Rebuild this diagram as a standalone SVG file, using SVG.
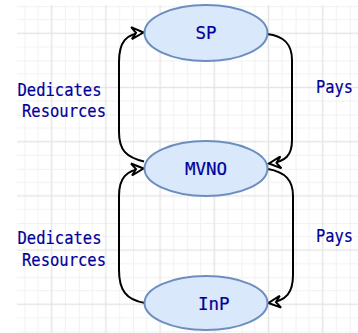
<svg xmlns="http://www.w3.org/2000/svg" width="358" height="333" viewBox="0 0 358 333">
<defs>
<style>
.node{fill:#dae8fc;stroke:#6c8ebf;stroke-width:2}
.lbl{font-family:"DejaVu Sans Mono",monospace;font-size:17px;fill:#000099;stroke:#000099;stroke-width:0.2}
.nl{font-size:17.5px}
.edge{fill:none;stroke:#000;stroke-width:2}
</style>
<pattern id="grid" patternUnits="userSpaceOnUse" x="24.6" y="6.2" width="54.2" height="54.2">
<rect x="0" y="0" width="1" height="54.2" fill="#f1f1f1"/>
<rect x="13.05" y="0" width="1" height="54.2" fill="#f1f1f1"/>
<rect x="40.15" y="0" width="1" height="54.2" fill="#f1f1f1"/>
<rect x="0" y="0" width="54.2" height="1" fill="#f1f1f1"/>
<rect x="0" y="13.05" width="54.2" height="1" fill="#f1f1f1"/>
<rect x="0" y="40.15" width="54.2" height="1" fill="#f1f1f1"/>
<rect x="26.35" y="0" width="1.5" height="54.2" fill="#e6e6e6"/>
<rect x="0" y="26.35" width="54.2" height="1.5" fill="#e6e6e6"/>
</pattern>
<marker id="arr" markerUnits="userSpaceOnUse" viewBox="-13 -7 15 14" refX="0" refY="0" markerWidth="15" markerHeight="14" orient="auto">
<path d="M0,0 L-12,-6 L-7.5,0 L-12,6 Z" fill="#fff" stroke="#000" stroke-width="2" stroke-linejoin="miter"/>
</marker>
</defs>
<rect x="0" y="0" width="358" height="333" fill="#fff"/>
<rect x="17" y="5" width="341" height="328" fill="url(#grid)"/>
<g id="connectors">
<path class="edge" d="M144,161.5 C126,157 119,150 119,132 L119,62 C119,42 126,33.5 143.5,32.5" marker-end="url(#arr)"/>
<path class="edge" d="M267,34 C285,36 292,45 292,60 L292,140 C292,155 286,162 269,163.5" marker-end="url(#arr)"/>
<path class="edge" d="M145,303 C126,300 119,290 119,270 L119,196 C119,178 126,170 143.5,168.5" marker-end="url(#arr)"/>
<path class="edge" d="M268,169 C285,172 293,180 293,196 L293,275 C293,292 287,301 268.5,303" marker-end="url(#arr)"/>
<text class="lbl" x="17.5" y="96" textLength="84" lengthAdjust="spacingAndGlyphs">Dedicates</text>
<text class="lbl" x="22" y="117.3" textLength="84" lengthAdjust="spacingAndGlyphs">Resources</text>
<text class="lbl" x="316" y="93" textLength="37" lengthAdjust="spacingAndGlyphs">Pays</text>
<text class="lbl" x="17.5" y="244.3" textLength="84" lengthAdjust="spacingAndGlyphs">Dedicates</text>
<text class="lbl" x="22" y="266" textLength="84" lengthAdjust="spacingAndGlyphs">Resources</text>
<text class="lbl" x="316" y="242.3" textLength="37" lengthAdjust="spacingAndGlyphs">Pays</text>
</g>
<g id="SP">
<ellipse class="node" cx="206" cy="33" rx="61.5" ry="28"/>
<text class="lbl nl" x="206" y="39" text-anchor="middle">SP</text>
</g>
<g id="MVNO">
<ellipse class="node" cx="206" cy="168.5" rx="61.5" ry="27.5"/>
<text class="lbl nl" x="206" y="174.5" text-anchor="middle">MVNO</text>
</g>
<g id="InP">
<ellipse class="node" cx="206" cy="303" rx="61.5" ry="27"/>
<text class="lbl nl" x="213.8" y="309.5" text-anchor="middle">InP</text>
</g>
</svg>
